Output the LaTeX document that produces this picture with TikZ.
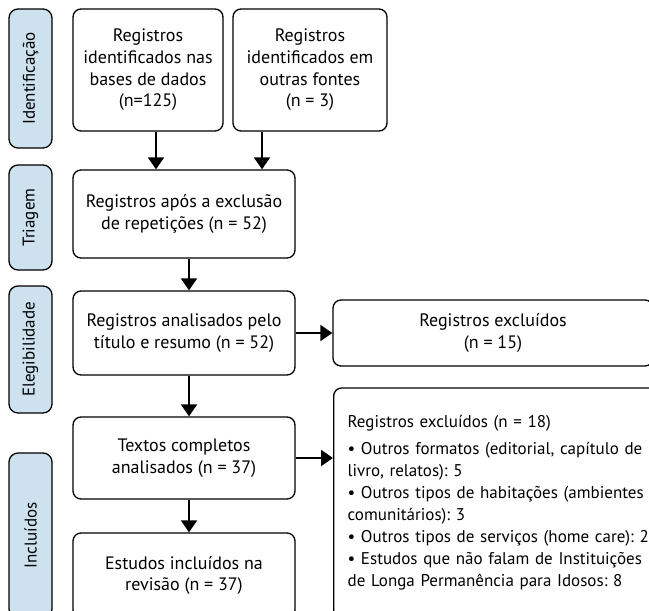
\documentclass[tikz,border=0pt]{standalone}
\usepackage{fontspec}
\setmainfont{PT Sans}
\frenchspacing
\usetikzlibrary{arrows.meta}
\definecolor{fasebg}{RGB}{205,226,238}

\begin{document}
\begin{tikzpicture}[x=1pt,y=-1pt,
    caixa/.style={draw, line width=1.3pt, rounded corners=8pt, align=center,
      inner sep=0pt, font=\fontsize{18}{21.7}\selectfont},
    fase/.style={draw, line width=1.3pt, rounded corners=9pt, fill=fasebg,
      rotate=90, inner sep=0pt, font=\fontsize{17}{20}\selectfont},
    seta/.style={line width=2pt, -{Triangle[width=16pt,length=12pt]}}]
  \clip (0,0) rectangle (649,611);
  \node[fase, minimum width=139pt, minimum height=43pt] (fid) at (30.5,78.5) {Identificação};
  \node[fase, minimum width=105pt, minimum height=43pt] (ftri) at (30.5,217.5) {Triagem};
  \node[fase, minimum width=127pt, minimum height=43pt] (fele) at (30.5,349.5) {Elegibilidade};
  \node[fase, minimum width=165pt, minimum height=43pt] (finc) at (30.5,535.5) {Incluídos};
  \node[caixa, minimum width=150pt, minimum height=122pt] (bases) at (148,70)
    {Registros\\identificados nas\\bases de dados\\(n=125)};
  \node[caixa, minimum width=154pt, minimum height=122pt] (outras) at (310,70)
    {Registros\\identificados em\\outras fontes\\(n = 3)};
  \node[caixa, minimum width=222pt, minimum height=88pt] (triagem) at (184,214)
    {Registros após a exclusão\\de repetições (n = 52)};
  \node[caixa, minimum width=222pt, minimum height=84pt] (analisados) at (184,333)
    {Registros analisados pelo\\título e resumo (n = 52)};
  \node[caixa, minimum width=320pt, minimum height=66pt] (excl15) at (493,333)
    {Registros excluídos\\(n = 15)};
  \node[caixa, minimum width=222pt, minimum height=82pt] (textos) at (184,458)
    {Textos completos\\analisados (n = 37)};
  \node[caixa, minimum width=222pt, minimum height=85pt] (estudos) at (184,575.5)
    {Estudos incluídos na\\revisão (n = 37)};
  \node[caixa, anchor=west, minimum width=330pt, minimum height=230pt, text width=400pt,
    inner xsep=14pt, align=left, font=\fontsize{17}{22}\selectfont] (excl18) at (333,503)
    {Registros excluídos (n = 18)\\[5pt]
     • Outros formatos (editorial, capítulo de\\
     livro, relatos): 5\\
     • Outros tipos de habitações (ambientes\\
     comunitários): 3\\
     • Outros tipos de serviços (home care): 2\\
     • Estudos que não falam de Instituições\\
     de Longa Permanência para Idosos: 8};
  \draw[seta] ([xshift=8pt]bases.south) -- ([xshift=8pt]bases.south |- triagem.north);
  \draw[seta] ([xshift=-48pt]outras.south) -- ([xshift=-48pt]outras.south |- triagem.north);
  \draw[seta] ([xshift=5pt]triagem.south) -- ([xshift=5pt]analisados.north);
  \draw[seta] ([xshift=5pt]analisados.south) -- ([xshift=5pt]textos.north);
  \draw[seta] ([xshift=5pt]textos.south) -- ([xshift=5pt]estudos.north);
  \draw[seta] (analisados.east) -- (excl15.west);
  \draw[seta] (textos.east) -- (textos.east -| excl18.west);
\end{tikzpicture}
\end{document}
